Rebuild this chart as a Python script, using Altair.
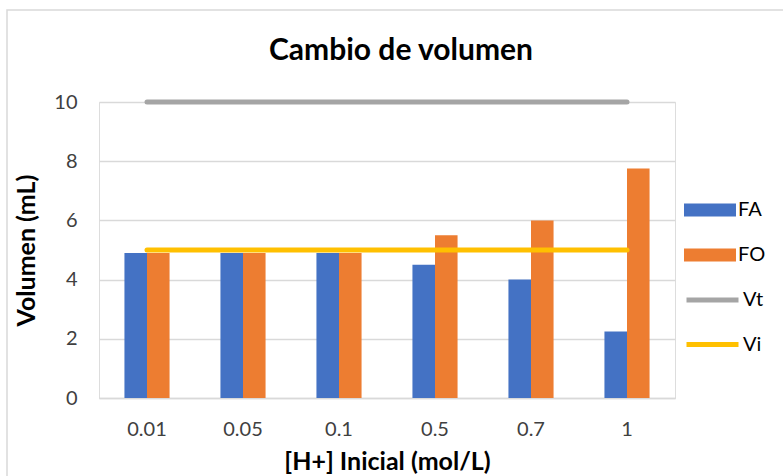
import altair as alt
import pandas as pd

# Initial [H+] concentrations (mol/L) used as categories
categories = ["0.01", "0.05", "0.1", "0.5", "0.7", "1"]
# Phase volumes (mL)
fa_values = [4.9, 4.9, 4.9, 4.5, 4.0, 2.25]
fo_values = [4.9, 4.9, 4.9, 5.5, 6.0, 7.75]
# Reference volumes (mL)
vt_values = [10, 10, 10, 10, 10, 10]
vi_values = [5, 5, 5, 5, 5, 5]

bar_series = ["FA", "FO"]
line_series = ["Vt", "Vi"]
chart_title = "Cambio de volumen"

bars = pd.DataFrame(
    [{"conc": c, "serie": "FA", "vol": v} for c, v in zip(categories, fa_values)]
    + [{"conc": c, "serie": "FO", "vol": v} for c, v in zip(categories, fo_values)]
)
lines = pd.DataFrame(
    [{"conc": c, "serie": "Vt", "vol": v} for c, v in zip(categories, vt_values)]
    + [{"conc": c, "serie": "Vi", "vol": v} for c, v in zip(categories, vi_values)]
)

FONT = "Lato"
GRID = "#D9D9D9"
TEXT = "#404040"

x_enc = alt.X(
    "conc:N",
    sort=categories,
    title="[H+] Inicial (mol/L)",
    scale=alt.Scale(paddingInner=0.53, paddingOuter=0.265),
    axis=alt.Axis(
        labelAngle=0,
        labelFontSize=20,
        labelColor=TEXT,
        labelFont=FONT,
        labelPadding=21,
        ticks=False,
        domainColor=GRID,
        domainWidth=1.5,
        titleFontSize=25,
        titleFont=FONT,
        titleFontWeight="bold",
        titleColor="#000000",
        titlePadding=10,
    ),
)
y_enc = alt.Y(
    "vol:Q",
    title="Volumen (mL)",
    scale=alt.Scale(domain=[0, 10]),
    axis=alt.Axis(
        values=[0, 2, 4, 6, 8, 10],
        labelFontSize=20,
        labelColor=TEXT,
        labelFont=FONT,
        labelPadding=22,
        ticks=False,
        domain=False,
        gridColor=GRID,
        gridWidth=1.5,
        titleFontSize=25,
        titleFont=FONT,
        titleFontWeight="bold",
        titleColor="#000000",
        titlePadding=14,
    ),
)

bar_layer = alt.Chart(bars).mark_bar().encode(
    x=x_enc,
    xOffset=alt.XOffset("serie:N", sort=bar_series),
    y=y_enc,
    fill=alt.Fill(
        "serie:N",
        sort=bar_series,
        scale=alt.Scale(domain=bar_series, range=["#4472C4", "#ED7D31"]),
        legend=alt.Legend(
            title=None,
            orient="none",
            legendX=585,
            legendY=98,
            symbolType="M-1,-0.25H1V0.25H-1Z",
            symbolSize=2704,
            symbolStrokeWidth=0,
            clipHeight=20,
            rowPadding=25,
            labelFontSize=20,
            labelFont=FONT,
            labelColor="#000000",
            labelOffset=2,
        ),
    ),
)

line_layer = alt.Chart(lines).mark_line(strokeWidth=5, strokeCap="round").encode(
    x=alt.X("conc:N", sort=categories),
    y="vol:Q",
    detail="serie:N",
    stroke=alt.Stroke(
        "serie:N",
        sort=line_series,
        scale=alt.Scale(domain=line_series, range=["#A5A5A5", "#FFC000"]),
        legend=alt.Legend(
            title=None,
            orient="none",
            legendX=585,
            legendY=188,
            symbolType="M-1,0H1",
            symbolSize=2704,
            symbolStrokeWidth=5,
            clipHeight=20,
            rowPadding=24.5,
            labelFontSize=20,
            labelFont=FONT,
            labelColor="#000000",
            labelOffset=2,
        ),
    ),
)

# Chart heading, centred over the plot and legend
title_layer = alt.Chart(pd.DataFrame({"t": [chart_title]})).mark_text(
    font=FONT, fontSize=30, fontWeight="bold", color="#000000",
    align="center", baseline="alphabetic",
).encode(text="t:N", x=alt.value(302), y=alt.value(-42))

# Light frame around the whole chart
frame = alt.Chart(pd.DataFrame({"k": [0]})).mark_rect(
    fill=None, stroke=GRID, strokeWidth=1.5
).encode(
    x=alt.value(-92),
    x2=alt.value(700),
    y=alt.value(-92),
    y2=alt.value(400),
)

chart = (
    alt.layer(frame, bar_layer, line_layer, title_layer)
    .resolve_scale(fill="independent", stroke="independent")
    .properties(
        width=576,
        height=296,
        padding={"left": 99, "top": 102, "right": 108, "bottom": 78},
        autosize=alt.AutoSizeParams(type="none"),
    )
    .configure_view(stroke=None)
    .configure(background="white")
)

chart.save("out.html", embed_options={"renderer": "svg", "actions": False})
